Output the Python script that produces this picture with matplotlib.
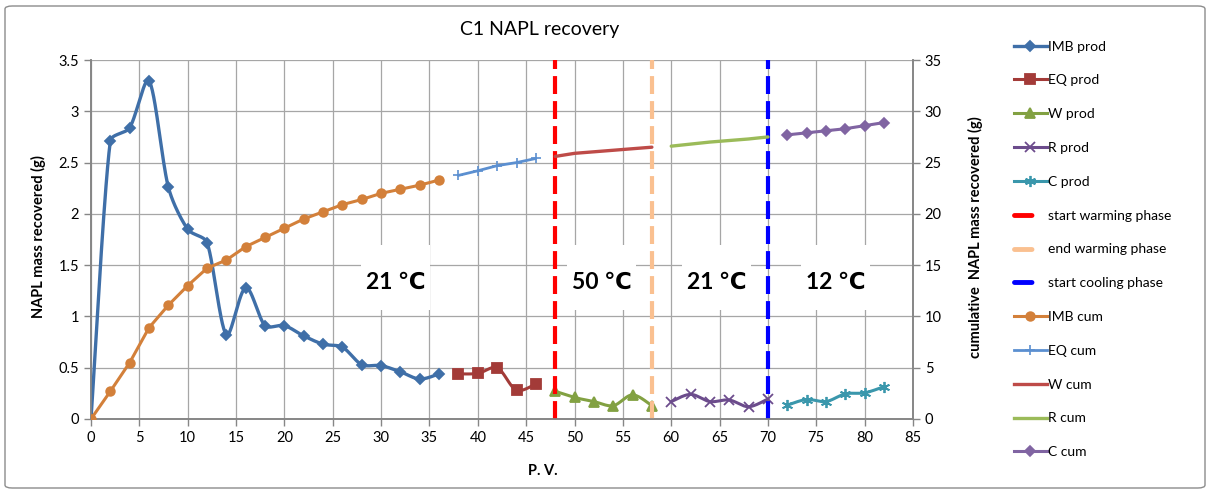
import numpy as np
import matplotlib
matplotlib.use("Agg")
import matplotlib.pyplot as plt
from matplotlib.lines import Line2D
from matplotlib.patches import Rectangle, FancyBboxPatch

plt.rcParams['font.family'] = ['Lato', 'DejaVu Sans']

# ---------------- data ----------------
title = "C1 NAPL recovery"
xlabel = "P. V."
ylabel_left = "NAPL mass recovered (g)"
ylabel_right = "cumulative  NAPL mass recovered (g)"

imb_x = [0, 2, 4, 6, 8, 10, 12, 14, 16, 18, 20, 22, 24, 26, 28, 30, 32, 34, 36]
imb_prod = [0, 2.71, 2.84, 3.30, 2.26, 1.85, 1.72, 0.82, 1.28, 0.91, 0.91, 0.81, 0.73, 0.70, 0.53, 0.52, 0.46, 0.39, 0.44]
imb_cum = [0, 2.7, 5.5, 8.9, 11.1, 13.0, 14.7, 15.5, 16.8, 17.7, 18.6, 19.5, 20.2, 20.9, 21.4, 22.0, 22.4, 22.8, 23.3]

eq_x = [38, 40, 42, 44, 46]
eq_prod = [0.44, 0.445, 0.50, 0.28, 0.34]
eq_cum = [23.75, 24.2, 24.7, 25.0, 25.4]

w_x = [48, 50, 52, 54, 56, 58]
w_prod = [0.27, 0.21, 0.17, 0.13, 0.235, 0.13]
w_cum = [25.6, 25.9, 26.05, 26.2, 26.35, 26.5]

r_x = [60, 62, 64, 66, 68, 70]
r_prod = [0.17, 0.24, 0.17, 0.185, 0.12, 0.195]
r_cum = [26.6, 26.8, 27.0, 27.15, 27.3, 27.5]

c_x = [72, 74, 76, 78, 80, 82]
c_prod = [0.135, 0.19, 0.17, 0.245, 0.255, 0.315]
c_cum = [27.7, 27.9, 28.1, 28.3, 28.6, 28.9]

phase_x = [48, 58, 70]
phase_labels = ["start warming phase", "end warming phase", "start cooling phase"]
phase_colors = ["#FF0000", "#FAC090", "#0000FF"]

temp_labels = ["21 \u2103", "50 \u2103", "21 \u2103", "12 \u2103"]
temp_x = [31.5, 52.8, 64.7, 77.0]
temp_y = 1.33

xticks = list(range(0, 90, 5))
yticks_left = [0, 0.5, 1, 1.5, 2, 2.5, 3, 3.5]
ytick_left_labels = ["0", "0.5", "1", "1.5", "2", "2.5", "3", "3.5"]
yticks_right = list(range(0, 40, 5))

# ---------------- figure ----------------
W, H = 1211, 493
L, R, B, T = 91, 913, 419, 60
XPX = (R - L) / 85.0   # pixels per x unit
YPX = (B - T) / 3.5    # pixels per left-y unit


def smooth(x, y, ysc, n=30):
    """Excel-like smoothed curve through the data points (Bezier, limited tangents)."""
    P = np.column_stack([np.asarray(x, float) * XPX, np.asarray(y, float) * ysc])
    out = [P[0]]
    m = len(P)
    for i in range(m - 1):
        p0 = P[i - 1] if i > 0 else P[i]
        p1 = P[i]; p2 = P[i + 1]
        p3 = P[i + 2] if i + 2 < m else P[i + 1]
        d01 = np.linalg.norm(p1 - p0); d12 = np.linalg.norm(p2 - p1); d23 = np.linalg.norm(p3 - p2)
        f1 = min(1 / 6, d12 / (d01 + d12) / 3.0) if d01 + d12 > 0 else 0
        f2 = min(1 / 6, d12 / (d12 + d23) / 3.0) if d12 + d23 > 0 else 0
        c1 = p1 + (p2 - p0) * f1
        c2 = p2 - (p3 - p1) * f2
        t = np.linspace(0, 1, n)[1:, None]
        seg = ((1 - t) ** 3) * p1 + 3 * ((1 - t) ** 2) * t * c1 + 3 * (1 - t) * t ** 2 * c2 + t ** 3 * p2
        out.extend(seg)
    out = np.array(out)
    return out[:, 0] / XPX, out[:, 1] / ysc


fig = plt.figure(figsize=(W / 100, H / 100), dpi=100)
fig.patches.append(FancyBboxPatch((5 / W, 5 / H), (W - 11) / W, (H - 11) / H,
                                  boxstyle="round,pad=0,rounding_size=0.006",
                                  transform=fig.transFigure, facecolor='none',
                                  edgecolor='#8C8C8C', linewidth=1.0))

ax = fig.add_axes([L / W, 1 - B / H, (R - L) / W, (B - T) / H])
ax2 = ax.twinx()

grid_c = '#A6A6A6'
spine_c = '#868686'

ax.set_xlim(0, 85)
ax.set_ylim(0, 3.5)
ax2.set_ylim(0, 35)
ax.set_xticks(xticks)
ax.set_yticks(yticks_left)
ax.set_yticklabels(ytick_left_labels)
ax2.set_yticks(yticks_right)
ax.grid(True, color=grid_c, linewidth=0.9)
ax.set_axisbelow(True)

for a in (ax, ax2):
    a.spines['top'].set_visible(False)
    for s in ('left', 'right', 'bottom'):
        a.spines[s].set_color(spine_c)
        a.spines[s].set_linewidth(1.2)
    a.tick_params(colors=spine_c, labelcolor='black', labelsize=10.5, length=5, width=1)

# white boxes behind temperature labels (hide grid)
box_w, box_h = 7.1, 0.64
for tx in temp_x:
    ax.add_patch(Rectangle((tx - box_w / 2, 1.06), box_w, box_h, facecolor='white',
                           edgecolor='none', zorder=1.5))

# ----- production (left axis) -----
prod_specs = [
    (imb_x, imb_prod, "IMB prod", '#3F6FA8', 'D', 5, 2.4),
    (eq_x, eq_prod, "EQ prod", '#A33B38', 's', 6.5, 2.2),
    (w_x, w_prod, "W prod", '#82A142', '^', 7, 2.2),
    (r_x, r_prod, "R prod", '#6C4C8C', 'x', 7, 2.2),
    (c_x, c_prod, "C prod", '#3A97AC', (6, 2, 0), 8, 2.2),
]
handles = []
for xs, ys, lab, col, mk, ms, lw in prod_specs:
    sx, sy = smooth(xs, ys, YPX)
    ax.plot(sx, sy, color=col, lw=lw, zorder=3, solid_capstyle='round')
    ax.plot(xs, ys, ls='none', marker=mk, ms=ms, color=col, mec=col, mew=1.3, zorder=4)
    handles.append(Line2D([], [], color=col, lw=lw, marker=mk, ms=ms, mec=col, mew=1.3, label=lab))

# ----- phase lines -----
for px, lab, col in zip(phase_x, phase_labels, phase_colors):
    ax.axvline(px, color=col, lw=3.0, dashes=(4.3, 1.7), zorder=5)
    handles.append(Line2D([], [], color=col, lw=3.5, dashes=(3.6, 30), dash_capstyle='round', label=lab))

# ----- cumulative (right axis) -----
cum_specs = [
    (imb_x, imb_cum, "IMB cum", '#D3803A', 'o', 6.3, 2.2),
    (eq_x, eq_cum, "EQ cum", '#5B8FD0', '+', 7, 2.0),
    (w_x, w_cum, "W cum", '#BE4B48', None, 0, 2.4),
    (r_x, r_cum, "R cum", '#9BBB59', None, 0, 2.4),
    (c_x, c_cum, "C cum", '#8064A2', 'D', 5.5, 2.2),
]
for xs, ys, lab, col, mk, ms, lw in cum_specs:
    ax2.plot(xs, ys, color=col, lw=lw, marker=mk, ms=ms, mec=col, mew=1.2, zorder=3,
             solid_capstyle='round')
    handles.append(Line2D([], [], color=col, lw=lw, marker=mk, ms=ms, mec=col, mew=1.2, label=lab))

# temperature texts
for tx, tl in zip(temp_x, temp_labels):
    ax.text(tx, temp_y, tl, ha='center', va='center', fontsize=16.5, fontweight='bold', zorder=6)

# labels
fig.text(540 / W, 1 - 30 / H, title, ha='center', va='center', fontsize=14)
fig.text(543 / W, 1 - 471 / H, xlabel, ha='center', va='center', fontsize=10.5, fontweight='bold')
fig.text(38 / W, 1 - 237 / H, ylabel_left, ha='center', va='center', rotation=90,
         fontsize=10.5, fontweight='bold')
fig.text(975 / W, 1 - 237 / H, ylabel_right, ha='center', va='center', rotation=90,
         fontsize=10.5, fontweight='bold')

fig.legend(handles=handles, loc='upper left', bbox_to_anchor=(1008 / W, 1 - 35 / H),
           frameon=False, fontsize=10, handlelength=2.4, handletextpad=0.1,
           labelspacing=1.57, borderaxespad=0)

fig.savefig("out.png", dpi=100)
